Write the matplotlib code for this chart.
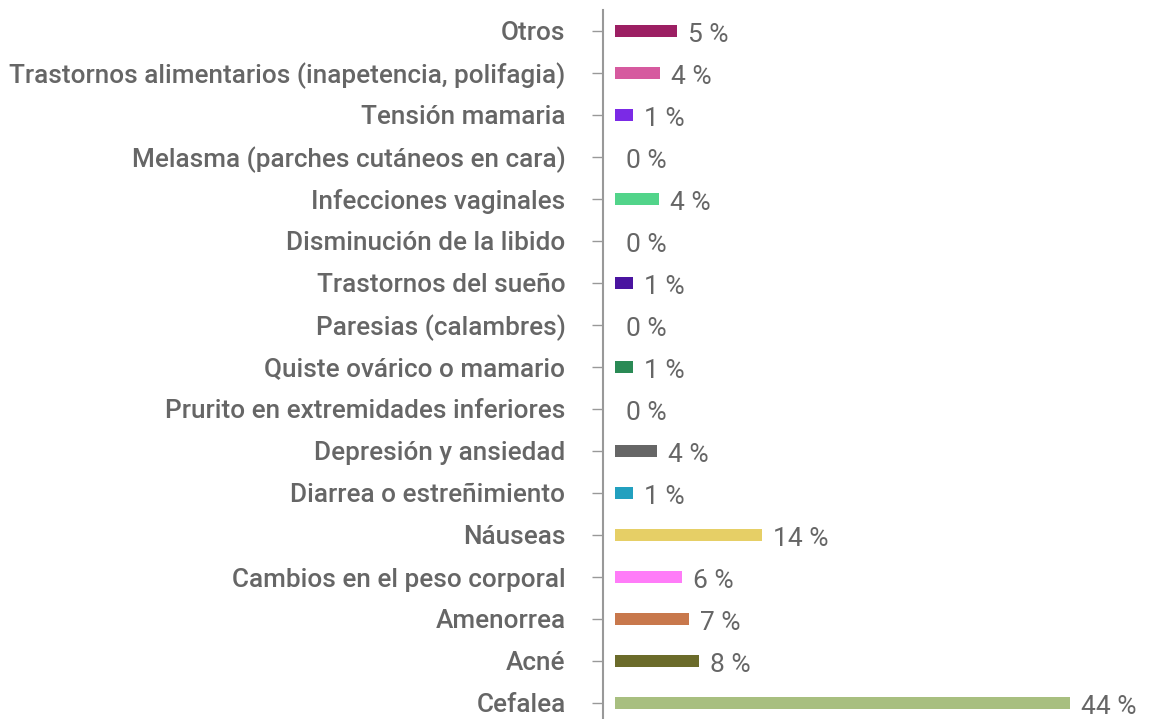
import matplotlib
matplotlib.use("Agg")
import matplotlib.pyplot as plt
import numpy as np

# Categories from top to bottom as in the picture
categories = [
    "Otros",
    "Trastornos alimentarios (inapetencia, polifagia)",
    "Tensión mamaria",
    "Melasma (parches cutáneos en cara)",
    "Infecciones vaginales",
    "Disminución de la libido",
    "Trastornos del sueño",
    "Paresias (calambres)",
    "Quiste ovárico o mamario",
    "Prurito en extremidades inferiores",
    "Depresión y ansiedad",
    "Diarrea o estreñimiento",
    "Náuseas",
    "Cambios en el peso corporal",
    "Amenorrea",
    "Acné",
    "Cefalea",
]
# bar lengths (percent)
values = [6.0, 4.35, 1.74, 0, 4.26, 0, 1.74, 0, 1.74, 0, 4.06, 1.74, 14.2, 6.48, 7.16, 8.12, 44.0]
value_labels = ["5 %", "4 %", "1 %", "0 %", "4 %", "0 %", "1 %", "0 %", "1 %", "0 %",
                "4 %", "1 %", "14 %", "6 %", "7 %", "8 %", "44 %"]
colors = ["#9C1F63", "#D65A9F", "#7B2AE6", "#999999", "#52D48A", "#999999", "#4A14A0",
          "#999999", "#2A8A55", "#999999", "#666666", "#22A0BF", "#E6CF66", "#FF7CF8",
          "#C8784C", "#6B6B2A", "#A8BF80"]

text_color = "#666666"
W, H = 1152, 719
fig = plt.figure(figsize=(W / 100, H / 100), dpi=100)
ax = fig.add_axes([603 / W, 0, (W - 603) / W, (H - 10) / H])

n = len(categories)
y = np.arange(n)[::-1]  # first category at top
ax.barh(y, values, height=0.28, color=colors)

px = 455 / 44.0  # pixels per percent
ax.set_xlim(-12 / px, (W - 615) / px)
ax.set_ylim(-16 / 42, (H - 10 - 16) / 42)

for yi, v, lab in zip(y, values, value_labels):
    ax.annotate(lab, (v, yi), xytext=(8, -1), textcoords="offset points",
                va="center_baseline", ha="left", fontsize=19, color=text_color,
                family="Roboto")

ax.set_yticks(y)
ax.set_yticklabels(categories, fontsize=18.8, color=text_color, family="Roboto",
                   fontweight="medium")
ax.tick_params(axis="y", length=8, width=1, color="#999999", pad=19)
ax.set_xticks([])
for side in ["top", "right", "bottom"]:
    ax.spines[side].set_visible(False)
ax.spines["left"].set_color("#999999")
ax.spines["left"].set_linewidth(1.5)

fig.savefig("out.png", dpi=100)
